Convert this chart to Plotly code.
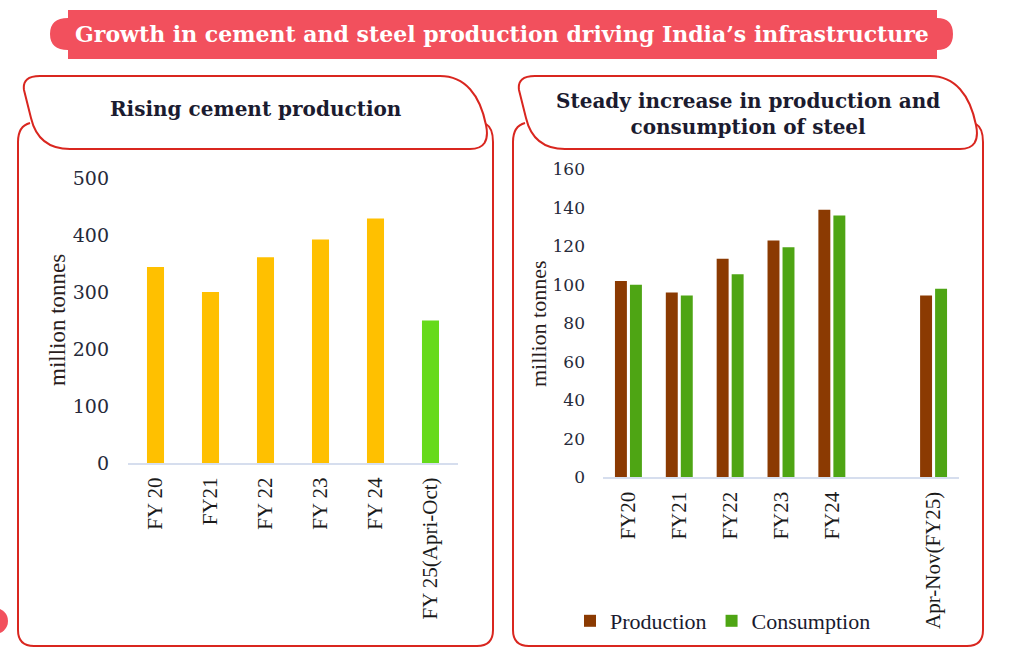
import plotly.graph_objects as go

# ---------------- data ----------------
cement_categories = ["FY 20", "FY21", "FY 22", "FY 23", "FY 24", "FY 25(Apri-Oct)"]
cement_values = [344, 300, 361, 392, 429, 250]
cement_colors = ["#FFC000", "#FFC000", "#FFC000", "#FFC000", "#FFC000", "#66DA1A"]

steel_categories = ["FY20", "FY21", "FY22", "FY23", "FY24", " ", "Apr-Nov(FY25)"]
steel_production = [102, 96, 113.5, 123, 139, None, 94.5]
steel_consumption = [100, 94.5, 105.5, 119.5, 136, None, 98]

cement_ticks = [0, 100, 200, 300, 400, 500]
steel_ticks = [0, 20, 40, 60, 80, 100, 120, 140, 160]

W, H = 1024, 649
RED = "#D9261F"
BANNER = "#F2505D"
TXT = "#1b1b2f"


def px(x, y):
    return x / W, 1 - y / H


def path(cmds):
    out = []
    for c in cmds:
        op = c[0]
        pts = c[1:]
        coords = []
        for i in range(0, len(pts), 2):
            X, Y = px(pts[i], pts[i + 1])
            coords.append(f"{X:.5f},{Y:.5f}")
        out.append(op + " " + " ".join(coords))
    return " ".join(out)


def panel_shapes(dx, right_shift=0):
    rs = dx + right_shift
    tab = path([
        ("M", 40 + dx, 76),
        ("L", 440 + rs, 76),
        ("C", 465 + rs, 76, 480 + rs, 95, 486 + rs, 125),
        ("Q", 491 + rs, 149, 470 + rs, 149),
        ("L", 70 + dx, 149),
        ("C", 45 + dx, 149, 35 + dx, 135, 31 + dx, 118),
        ("L", 24 + dx, 90),
        ("Q", 22 + dx, 76, 40 + dx, 76),
    ]) + " Z"
    body = path([
        ("M", 30 + dx, 123),
        ("Q", 18 + dx, 126, 18 + dx, 142),
        ("L", 18 + dx, 630),
        ("Q", 18 + dx, 646, 34 + dx, 646),
        ("L", 477 + rs, 646),
        ("Q", 493 + rs, 646, 493 + rs, 630),
        ("L", 493 + rs, 142),
        ("Q", 493 + rs, 128, 486 + rs, 124),
    ])
    return [
        dict(type="path", xref="paper", yref="paper", path=body,
             line=dict(color=RED, width=2), fillcolor="rgba(0,0,0,0)", layer="below"),
        dict(type="path", xref="paper", yref="paper", path=tab,
             line=dict(color=RED, width=2), fillcolor="white", layer="below"),
    ]


banner = path([
    ("M", 68, 10), ("L", 937, 10), ("L", 937, 18),
    ("Q", 953, 18, 953, 34), ("Q", 953, 50, 937, 50),
    ("L", 937, 59), ("L", 68, 59), ("L", 68, 50),
    ("Q", 50, 50, 50, 34), ("Q", 50, 18, 68, 18),
]) + " Z"

shapes = [dict(type="path", xref="paper", yref="paper", path=banner,
               line=dict(width=0), fillcolor=BANNER, layer="below")]
shapes += panel_shapes(0)
shapes += panel_shapes(495, right_shift=-5)
cx0, cy0 = px(-18, 608)
cx1, cy1 = px(8, 634)
shapes.append(dict(type="circle", xref="paper", yref="paper", x0=cx0, y0=cy1, x1=cx1, y1=cy0,
                   line=dict(width=0), fillcolor=BANNER, layer="below"))

fig = go.Figure()
fig.add_trace(go.Bar(x=cement_categories, y=cement_values, marker=dict(color=cement_colors, line=dict(width=0)),
                     width=0.31, xaxis="x", yaxis="y", showlegend=False))
fig.add_trace(go.Bar(x=steel_categories, y=steel_production, name="Production",
                     marker=dict(color="#8B3A02", line=dict(width=0)),
                     offset=-0.265, width=0.235, xaxis="x2", yaxis="y2"))
fig.add_trace(go.Bar(x=steel_categories, y=steel_consumption, name="Consumption",
                     marker=dict(color="#4EA514", line=dict(width=0)),
                     offset=0.03, width=0.235, xaxis="x2", yaxis="y2"))

axis_line = "#D6DEEE"
xf = dict(family="Liberation Serif", size=21, color="#1a1a1a")

l_x0, _ = px(128, 0)
l_x1, _ = px(458, 0)
_, l_y0 = px(0, 463)
_, l_y1 = px(0, 178)
r_x0, _ = px(603, 0)
r_x1, _ = px(959, 0)
_, r_y0 = px(0, 477.3)
_, r_y1 = px(0, 169.3)

fig.update_layout(
    width=W, height=H, margin=dict(l=0, r=0, t=0, b=0, autoexpand=False),
    paper_bgcolor="white", plot_bgcolor="rgba(0,0,0,0)",
    barmode="group",
    shapes=shapes,
    xaxis=dict(domain=[l_x0, l_x1], anchor="y", type="category", categoryorder="array",
               categoryarray=cement_categories, range=[-0.5, 5.5], tickangle=-90,
               showline=True, linecolor=axis_line, linewidth=2, showgrid=False, automargin=False,
               ticks="", tickfont=xf, ticklabelstandoff=4, fixedrange=True),
    yaxis=dict(domain=[l_y0, l_y1], anchor="x", range=[0, 500], tickvals=cement_ticks,
               showgrid=False, zeroline=False, ticks="", ticklabelstandoff=18, automargin=False,
               tickfont=dict(family="DejaVu Serif", size=19, color="#262a3a"), fixedrange=True),
    xaxis2=dict(domain=[r_x0, r_x1], anchor="y2", type="category", categoryorder="array",
                categoryarray=steel_categories, range=[-0.5, 6.5], tickangle=-90,
                showline=True, linecolor=axis_line, linewidth=2, showgrid=False, automargin=False,
                ticks="", tickfont=xf, ticklabelstandoff=4, fixedrange=True),
    yaxis2=dict(domain=[r_y0, r_y1], anchor="x2", range=[0, 160], tickvals=steel_ticks,
                showgrid=False, zeroline=False, ticks="", ticklabelstandoff=17, automargin=False,
                tickfont=dict(family="DejaVu Serif", size=17, color="#262a3a"), fixedrange=True),
    legend=dict(orientation="h", x=px(570, 0)[0], y=px(0, 621)[1], xanchor="left", yanchor="middle",
                font=dict(family="Liberation Serif", size=22, color="#1a1a2e"),
                bgcolor="rgba(0,0,0,0)", itemwidth=30, tracegroupgap=0),
    showlegend=True,
)


def ann(text, x, y, size, color=TXT, bold=True, family="DejaVu Serif", angle=0):
    X, Y = px(x, y)
    fig.add_annotation(text=f"<b>{text}</b>" if bold else text, x=X, y=Y, xref="paper", yref="paper",
                       showarrow=False, xanchor="center", yanchor="middle", textangle=angle,
                       font=dict(family=family, size=size, color=color))


ann("Growth in cement and steel production driving India’s infrastructure", 502, 34, 22, color="white")
ann("Rising cement production", 256, 109, 20)
ann("Steady increase in production and<br>consumption of steel", 748, 114, 20)
ann("million tonnes", 57, 320, 23, color="#2a1d1d", bold=False, family="Liberation Serif", angle=-90)
ann("million tonnes", 538, 324, 22, color="#2a1d1d", bold=False, family="Liberation Serif", angle=-90)

fig.write_html("out.html", config={"displayModeBar": False},
               post_script="document.body.style.margin='0';document.body.style.overflow='hidden';")
